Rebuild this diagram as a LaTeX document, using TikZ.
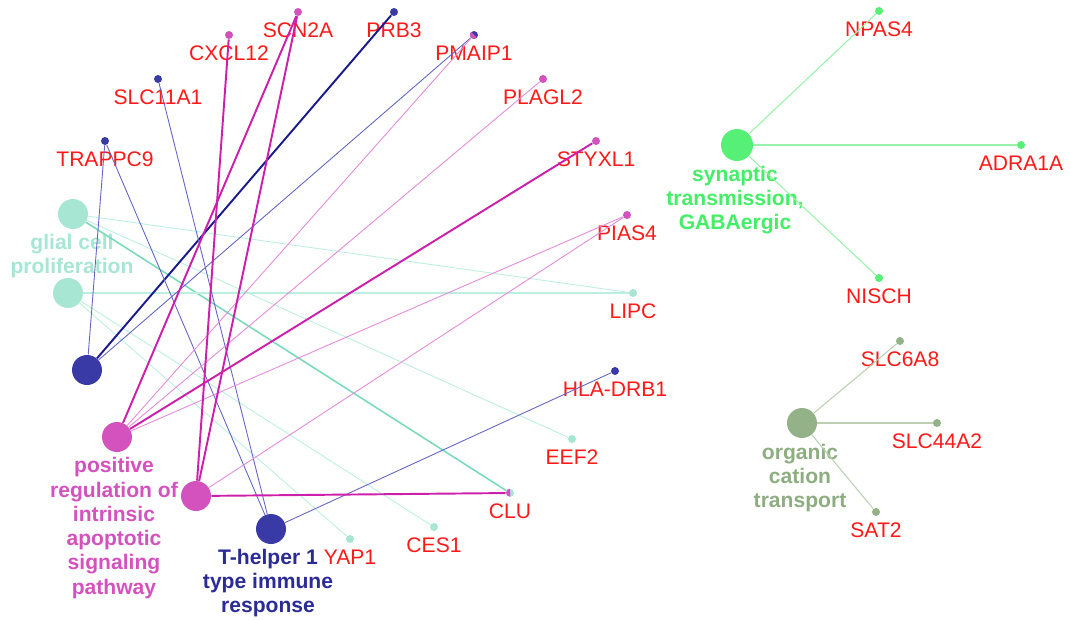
\documentclass[tikz,border=0pt]{standalone}
\usepackage{fontspec}
\setmainfont{Liberation Sans}
\definecolor{glialc}{HTML}{A8E6D4}
\definecolor{glialln}{HTML}{BDEFE1}
\definecolor{glialmd}{HTML}{7ADBBB}
\definecolor{thc}{HTML}{3A3AA6}
\definecolor{thln}{HTML}{6464C4}
\definecolor{thdk}{HTML}{1A1A8E}
\definecolor{thtxt}{HTML}{2B2B96}
\definecolor{apoc}{HTML}{D452BE}
\definecolor{apoln}{HTML}{E58ADB}
\definecolor{apodk}{HTML}{CC1FAA}
\definecolor{sync}{HTML}{55F075}
\definecolor{synln}{HTML}{9AF2AA}
\definecolor{syntxt}{HTML}{44EE66}
\definecolor{orgc}{HTML}{93B287}
\definecolor{orgln}{HTML}{BCCFB0}
\definecolor{orgtxt}{HTML}{8DAE80}
\definecolor{genered}{HTML}{FF1A1A}

\begin{document}
\begin{tikzpicture}[x=0.02cm,y=0.02cm,
  term/.style={circle,minimum size=0.6cm,inner sep=0pt},
  gene/.style={circle,minimum size=0.16cm,inner sep=0pt},
  genelabel/.style={text=genered,font=\fontsize{12}{14}\selectfont},
  termlabel/.style={align=center,font=\bfseries\fontsize{12}{13.8}\selectfont},
  thin edge/.style={line width=0.5pt},
  thick edge/.style={line width=1.1pt}]
  \useasboundingbox (0,0) rectangle (1070,-619);

  % term nodes
  \node (gl1) [term,fill=glialc] at (73,-214) {};
  \node (gl2) [term,fill=glialc] at (68,-293) {};
  \node (th1) [term,fill=thc] at (87,-370) {};
  \node (th2) [term,fill=thc] at (271,-529) {};
  \node (apo1) [term,fill=apoc] at (117,-437) {};
  \node (apo2) [term,fill=apoc] at (196,-496) {};
  \node (syn) [term,fill=sync,minimum size=0.64cm] at (737,-145) {};
  \node (org) [term,fill=orgc] at (802,-423) {};

  % term labels
  \node (gllab) [termlabel,text=glialc] at (72,-256) {glial cell\\proliferation};
  \node (apolab) [termlabel,text=apoc] at (114,-528) {positive\\regulation of\\intrinsic\\apoptotic\\signaling\\pathway};
  \node (thlab) [termlabel,text=thtxt] at (268,-583) {T-helper 1\\type immune\\response};
  \node (synlab) [termlabel,text=syntxt] at (735,-200) {synaptic\\transmission,\\GABAergic};
  \node (orglab) [termlabel,text=orgtxt] at (800,-478) {organic\\cation\\transport};

  % genes
  \node (scn) [gene,fill=apoc,label={[genelabel]below:SCN2A}] at (298,-12) {};
  \node (prb) [gene,fill=thc,label={[genelabel]below:PRB3}] at (394,-12) {};
  \node (cxcl) [gene,fill=apoc,label={[genelabel]below:CXCL12}] at (229,-35) {};
  \node (pmaip) [gene,fill=thc,label={[genelabel]below:PMAIP1}] at (474,-35) {};
  \node (slc11) [gene,fill=thc,label={[genelabel]below:SLC11A1}] at (158,-79) {};
  \node (plagl) [gene,fill=apoc,label={[genelabel]below:PLAGL2}] at (543,-79) {};
  \node (trappc) [gene,fill=thc,label={[genelabel]below:TRAPPC9}] at (105,-141) {};
  \node (styxl) [gene,fill=apoc,label={[genelabel]below:STYXL1}] at (596,-141) {};
  \node (pias) [gene,fill=apoc,label={[genelabel]below:PIAS4}] at (627,-215) {};
  \node (lipc) [gene,fill=glialc,label={[genelabel]below:LIPC}] at (633,-293) {};
  \node (hla) [gene,fill=thc,label={[genelabel]below:HLA-DRB1}] at (615,-371) {};
  \node (eef) [gene,fill=glialc,label={[genelabel]below:EEF2}] at (572,-439) {};
  \node (clu) [gene,fill=glialc,label={[genelabel]below:CLU}] at (510,-493) {};
  \node (ces) [gene,fill=glialc,label={[genelabel]below:CES1}] at (434,-527) {};
  \node (yap) [gene,fill=glialc,label={[genelabel]below:YAP1}] at (350,-539) {};
  \node (npas) [gene,fill=sync,label={[genelabel]below:NPAS4}] at (879,-11) {};
  \node (adra) [gene,fill=sync,label={[genelabel]below:ADRA1A}] at (1021,-145) {};
  \node (nisch) [gene,fill=sync,label={[genelabel]below:NISCH}] at (879,-278) {};
  \node (slc6) [gene,fill=orgc,label={[genelabel]below:SLC6A8}] at (900,-341) {};
  \node (slc44) [gene,fill=orgc,label={[genelabel]below:SLC44A2}] at (937,-423) {};
  \node (sat) [gene,fill=orgc,label={[genelabel]below:SAT2}] at (876,-512) {};

  % two-coloured genes
  \fill[apoc] (pmaip.center) -- (pmaip.north west) arc[start angle=135,end angle=315,radius=0.08cm] -- cycle;
  \fill[apoc] (clu.center) -- (clu.north) arc[start angle=90,end angle=270,radius=0.08cm] -- cycle;

  % glial cell proliferation
  \draw[glialln,thin edge] (gl1) -- (lipc);
  \draw[glialln,thin edge] (gl1) -- (eef);
  \draw[glialmd,line width=0.9pt] (gl1) -- (clu);
  \draw[glialln,line width=0.8pt] (gl2) -- (lipc);
  \draw[glialln,thin edge] (gl2) -- (ces);
  \draw[glialln,thin edge] (gl2) -- (yap);

  % T-helper 1
  \draw[thln,thin edge] (th1) -- (trappc);
  \draw[thdk,thick edge] (th1) -- (prb);
  \draw[thln,thin edge] (th1) -- (pmaip);
  \draw[thln,thin edge] (th2) -- (trappc);
  \draw[thln,thin edge] (th2) -- (slc11);
  \draw[thln,thin edge] (th2) -- (hla);

  % apoptotic signaling
  \draw[apodk,thick edge] (apo1) -- (scn);
  \draw[apoln,thin edge] (apo1) -- (pmaip);
  \draw[apoln,thin edge] (apo1) -- (plagl);
  \draw[apodk,thick edge] (apo1) -- (styxl);
  \draw[apoln,thin edge] (apo1) -- (pias);
  \draw[apodk,thick edge] (apo2) -- (cxcl);
  \draw[apodk,thick edge] (apo2) -- (scn);
  \draw[apoln,thin edge] (apo2) -- (pias);
  \draw[apodk,thick edge] (apo2) -- (clu);

  % right-hand groups
  \foreach \g in {npas,adra,nisch}
    \draw[synln,line width=0.6pt] (syn) -- (\g);
  \foreach \g in {slc6,slc44,sat}
    \draw[orgln,line width=0.6pt] (org) -- (\g);
\end{tikzpicture}
\end{document}
